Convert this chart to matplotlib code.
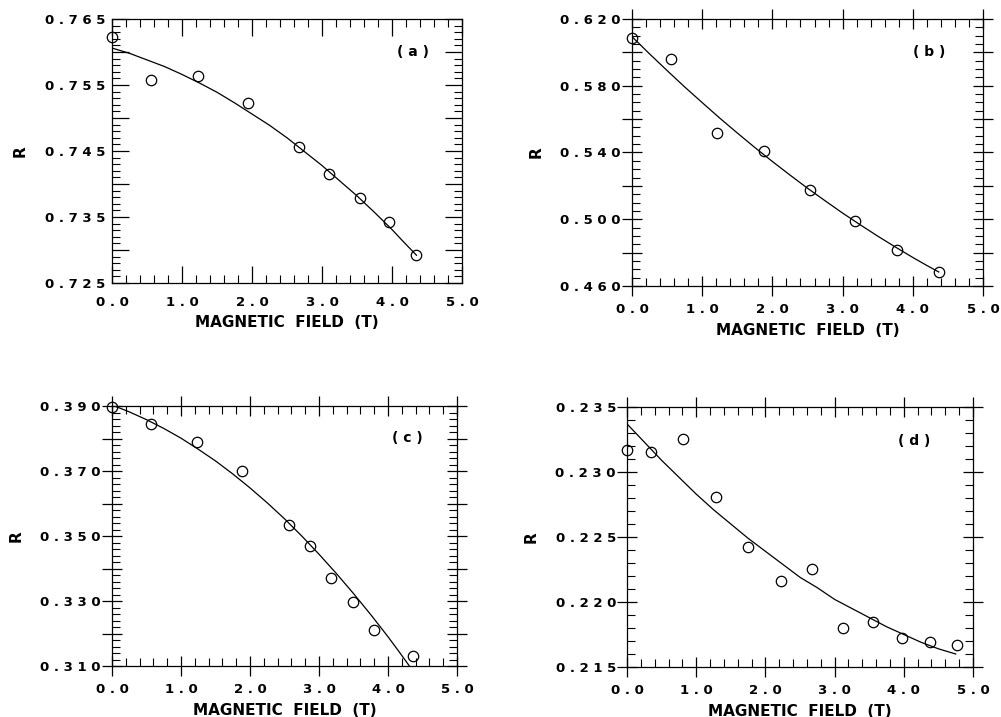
import matplotlib
matplotlib.use("Agg")
import matplotlib.pyplot as plt
from matplotlib.ticker import MultipleLocator, FuncFormatter, FixedLocator

# measured points (open circles)
field_a = [0.0, 0.55, 1.23, 1.95, 2.67, 3.10, 3.54, 3.96, 4.35]
r_a = [0.7622, 0.7557, 0.7563, 0.7522, 0.7456, 0.7415, 0.7379, 0.7342, 0.7292]
field_b = [0.0, 0.55, 1.21, 1.88, 2.54, 3.18, 3.78, 4.37]
r_b = [0.6084, 0.5958, 0.5518, 0.5408, 0.5174, 0.4988, 0.4818, 0.4684]
field_c = [0.0, 0.56, 1.23, 1.89, 2.57, 2.87, 3.18, 3.49, 3.80, 4.36]
r_c = [0.3896, 0.3845, 0.3788, 0.3700, 0.3534, 0.3470, 0.3372, 0.3298, 0.3211, 0.3132]
field_d = [0.0, 0.34, 0.81, 1.28, 1.75, 2.22, 2.67, 3.12, 3.56, 3.98, 4.38, 4.77]
r_d = [0.2317, 0.2315, 0.2325, 0.2281, 0.2242, 0.2216, 0.2225, 0.2180, 0.2185, 0.2172, 0.2169, 0.2167]

# fitted curves
fit_field_a = [0.0, 0.25, 0.5, 0.75, 1.0, 1.25, 1.5, 1.75, 2.0, 2.25, 2.5, 2.75,
               3.0, 3.25, 3.5, 3.75, 4.0, 4.15, 4.35]
fit_r_a = [0.7606, 0.7598, 0.7588, 0.7578, 0.7566, 0.7553, 0.7539, 0.7523, 0.7506,
           0.7489, 0.7470, 0.7449, 0.7428, 0.7405, 0.7382, 0.7357, 0.7331, 0.7314, 0.7292]
fit_field_b = [0.0, 0.25, 0.5, 0.75, 1.0, 1.25, 1.5, 1.75, 2.0, 2.25, 2.5, 2.75,
               3.0, 3.25, 3.5, 3.75, 4.0, 4.2, 4.37]
fit_r_b = [0.6094, 0.5991, 0.5891, 0.5793, 0.5699, 0.5606, 0.5517, 0.5430, 0.5346,
           0.5265, 0.5186, 0.5111, 0.5037, 0.4967, 0.4899, 0.4834, 0.4771, 0.4723, 0.4684]
fit_field_c = [0.0, 0.25, 0.5, 0.75, 1.0, 1.25, 1.5, 1.75, 2.0, 2.25, 2.5, 2.75,
               3.0, 3.25, 3.5, 3.75, 4.0, 4.15, 4.31]
fit_r_c = [0.3903, 0.3882, 0.3858, 0.3831, 0.3801, 0.3767, 0.3731, 0.3691, 0.3648,
           0.3602, 0.3553, 0.3500, 0.3444, 0.3385, 0.3323, 0.3258, 0.3190, 0.3147, 0.3100]
fit_field_d = [0.0, 0.25, 0.5, 0.75, 1.0, 1.25, 1.5, 1.75, 2.0, 2.25, 2.5, 2.75,
               3.0, 3.25, 3.5, 3.75, 4.0, 4.25, 4.5, 4.75]
fit_r_d = [0.2337, 0.2323, 0.2309, 0.2296, 0.2283, 0.2271, 0.2260, 0.2249, 0.2239,
           0.2229, 0.2219, 0.2211, 0.2202, 0.2195, 0.2188, 0.2181, 0.2175, 0.2169,
           0.2164, 0.2160]

panel_tags = ["(a)", "(b)", "(c)", "(d)"]
# y limits, labelled step, long-tick step, minor step
y_setup = [
    (0.725, 0.765, 0.010, 0.005, 0.001),
    (0.460, 0.620, 0.040, 0.020, 0.005),
    (0.310, 0.390, 0.020, 0.010, 0.002),
    (0.215, 0.235, 0.005, 0.005, 0.001),
]

W, H = 1001, 717
boxes = [(112, 462, 19, 283), (632, 983, 19, 286), (112, 457, 406, 666), (627, 973, 407, 667)]
tag_pos = [(413, 52), (929, 52), (407, 438), (914, 441)]

fig = plt.figure(figsize=(W / 100, H / 100), dpi=100)

data = [
    (field_a, r_a, fit_field_a, fit_r_a),
    (field_b, r_b, fit_field_b, fit_r_b),
    (field_c, r_c, fit_field_c, fit_r_c),
    (field_d, r_d, fit_field_d, fit_r_d),
]


def spaced(s):
    return " ".join(s)


for i in range(4):
    l, r, t, b = boxes[i]
    ax = fig.add_axes([l / W, 1 - b / H, (r - l) / W, (b - t) / H])
    fx, fy, cx, cy = data[i]
    ax.plot(cx, cy, color="black", lw=0.9, zorder=2)
    ax.plot(fx, fy, "o", mfc="none", mec="black", ms=7.5, mew=0.9, zorder=3, clip_on=False)

    y0, y1, lab_step, long_step, minor_step = y_setup[i]
    ax.set_xlim(0, 5)
    ax.set_ylim(y0, y1)

    ax.xaxis.set_major_locator(MultipleLocator(1.0))
    ax.xaxis.set_minor_locator(MultipleLocator(0.2))
    ax.xaxis.set_major_formatter(FuncFormatter(lambda v, p: spaced(f"{v:.1f}")))

    n = int(round((y1 - y0) / long_step))
    ymaj = [y0 + k * long_step for k in range(n + 1)]
    ax.yaxis.set_major_locator(FixedLocator(ymaj))
    ax.yaxis.set_minor_locator(MultipleLocator(minor_step))
    labs = []
    for v in ymaj:
        k = (v - y0) / lab_step
        if abs(k - round(k)) < 1e-6:
            labs.append(spaced(f"{v:.3f}"))
        else:
            labs.append("")
    ax.set_yticklabels(labs)

    if i == 0:
        ax.tick_params(which="major", direction="in", length=12, width=0.9)
    else:
        ax.tick_params(which="major", direction="inout", length=14, width=0.9)
    ax.tick_params(which="minor", direction="in", length=5.5, width=0.8)
    ax.tick_params(which="both", top=True, right=True)
    ax.tick_params(axis="x", which="major", pad=9 if i == 0 else 5)
    ax.tick_params(axis="y", which="major", pad=5 if i == 0 else 1)

    for lab in ax.get_xticklabels() + ax.get_yticklabels():
        lab.set_fontweight("bold")
        lab.set_fontsize(9.5)
        lab.set_family("DejaVu Sans")

    for sp in ax.spines.values():
        sp.set_linewidth(0.9)

    ax.set_xlabel("MAGNETIC  FIELD  (T)", fontsize=11, fontweight="bold", labelpad=5)
    ax.set_ylabel("R", fontsize=11, fontweight="bold", labelpad=12)

    tx, ty = tag_pos[i]
    fig.text(tx / W, 1 - ty / H, spaced(panel_tags[i]), fontsize=10, fontweight="bold",
             ha="center", va="center")

fig.savefig("out.png", dpi=100)
